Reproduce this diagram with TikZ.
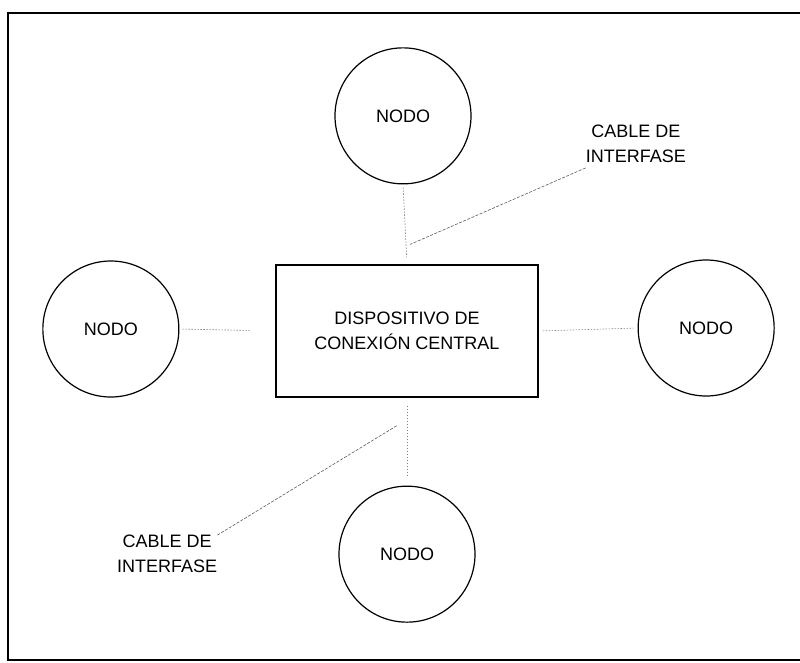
\documentclass[tikz,border=0pt]{standalone}
\usepackage{fontspec}
\setmainfont{Liberation Sans}
\usepackage{tikz}
\usetikzlibrary{positioning,calc}
\tikzset{
  nodo/.style={circle,draw,line width=1.2pt,minimum size=136pt,inner sep=0pt,
    font=\fontsize{18pt}{25pt}\selectfont},
  hub/.style={draw,line width=1.1pt,minimum width=262pt,minimum height=132pt,
    align=center,inner sep=0pt,font=\fontsize{18pt}{25pt}\selectfont},
  cabletext/.style={align=center,inner sep=0pt,font=\fontsize{18pt}{25pt}\selectfont},
  link/.style={draw=black!50,line width=0.6pt,dash pattern=on 1.5pt off 1.5pt},
  tap/.style={draw=black!65,line width=0.6pt,dash pattern=on 3pt off 1.5pt}
}
\begin{document}
\begin{tikzpicture}
  \useasboundingbox (0,0) rectangle (800pt,-662pt);
  \draw[line width=2.5pt] (800pt,-13pt) -- (8pt,-13pt) -- (8pt,-660pt) -- (800pt,-660pt);

  \node[hub] (box) at (407pt,-331pt) {DISPOSITIVO DE\\CONEXIÓN CENTRAL};
  \node[nodo,above=80pt of box,xshift=-4pt] (top) {NODO};
  \node[nodo,below=88pt of box] (bottom) {NODO};
  \node[nodo,left=96pt of box,yshift=2pt] (left) {NODO};
  \node[nodo,right=99pt of box,yshift=3pt] (right) {NODO};

  \node[cabletext,right=114pt of top,yshift=-28pt] (cable1) {CABLE DE\\INTERFASE};
  \node[cabletext,left=121pt of bottom] (cable2) {CABLE DE\\INTERFASE};
  \coordinate (tap1) at ($(box.north)+(3pt,20pt)$);
  \coordinate (tap2) at ($(box.south)+(-10pt,-28pt)$);

  \draw[link,shorten <=3pt,shorten >=7pt] (top.south) -- (box.north);
  \draw[link,shorten <=8pt,shorten >=8pt] (box.south) -- (bottom.north);
  \draw[link,shorten <=3pt,shorten >=26pt] (left.east) -- (box.west);
  \draw[link,shorten <=4pt,shorten >=4pt] (box.east) -- (right.west);

  \draw[tap] ($(cable1.south west)+(0,-5pt)$) -- (tap1);
  \draw[tap] (cable2.north east) -- (tap2);
\end{tikzpicture}
\end{document}
